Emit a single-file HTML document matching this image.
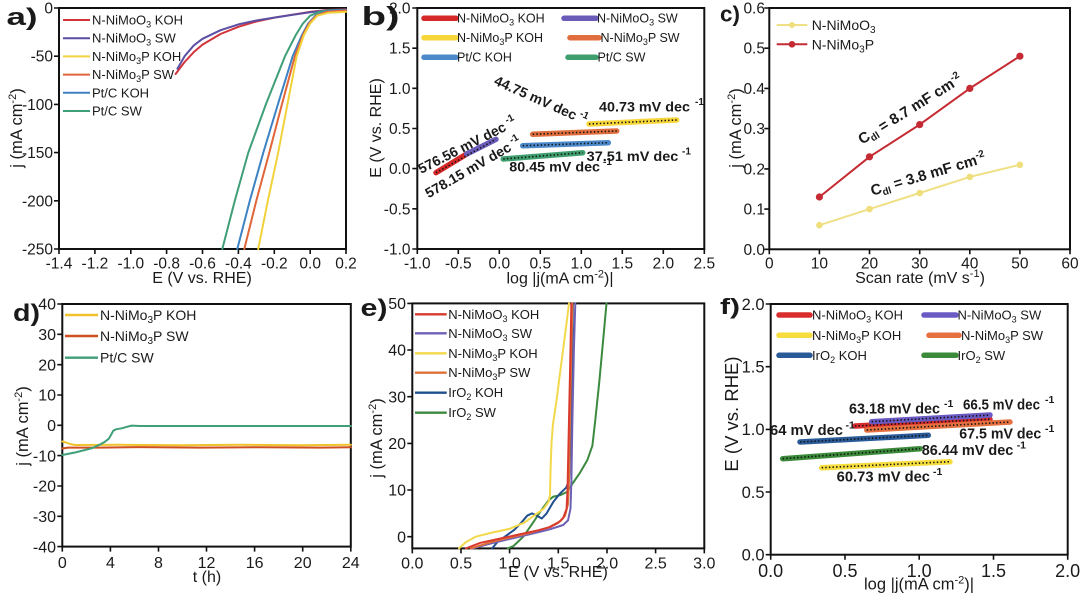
<!DOCTYPE html>
<html><head><meta charset="utf-8">
<style>
html,body{margin:0;padding:0;background:#fff;}
svg{display:block;}
text{font-family:"Liberation Sans",Arial,sans-serif;fill:#1a1a1a;}
.b{font-weight:bold;}
.ax{fill:none;stroke:#111;stroke-width:2;}
.tk{fill:none;stroke:#111;stroke-width:1.6;}
.c{fill:none;stroke-width:2;stroke-linejoin:round;stroke-linecap:round;}
.fat{fill:none;stroke-width:5.5;stroke-linecap:round;}
.dot{fill:none;stroke:#111;stroke-width:1.6;stroke-dasharray:1.4 2.2;}
</style></head><body>
<svg width="1080" height="596" viewBox="0 0 1080 596" xmlns="http://www.w3.org/2000/svg">

<!-- ================= PANEL A ================= -->
<text class="b" x="6.5" y="25" font-size="24" textLength="31" lengthAdjust="spacingAndGlyphs">a)</text>
<rect class="ax" x="59" y="8" width="287" height="241"/>
<path class="tk" d="M59 249v5M94.9 249v5M130.8 249v5M166.6 249v5M202.5 249v5M238.4 249v5M274.3 249v5M310.2 249v5M346 249v5M54 8h5M54 56.2h5M54 104.4h5M54 152.6h5M54 200.8h5M54 249h5"/>
<g font-size="15.5" text-anchor="middle">
<text x="59" y="268.5">-1.4</text><text x="94.9" y="268.5">-1.2</text><text x="130.8" y="268.5">-1.0</text><text x="166.6" y="268.5">-0.8</text><text x="202.5" y="268.5">-0.6</text><text x="238.4" y="268.5">-0.4</text><text x="274.3" y="268.5">-0.2</text><text x="310.2" y="268.5">0.0</text><text x="346" y="268.5">0.2</text>
</g>
<g font-size="15.5" text-anchor="end">
<text x="53" y="13.5">0</text><text x="53" y="61.7">-50</text><text x="53" y="109.9">-100</text><text x="53" y="158.1">-150</text><text x="53" y="206.3">-200</text><text x="53" y="254.5">-250</text>
</g>
<text x="202" y="283" font-size="16" text-anchor="middle">E (V vs. RHE)</text>
<text transform="rotate(-90 16 128)" x="16" y="134" font-size="16.5" text-anchor="middle">j (mA cm<tspan dy="-6" font-size="11">-2</tspan><tspan dy="6">)</tspan></text>

<polyline class="c" stroke="#d2343c" points="175.6,74 184.6,62 193.6,52.3 202.5,44.6 220.5,34 238.4,26.8 256.3,21.5 274.3,17.6 292.2,14.7 310.2,11.9 328.1,9.9 346,9.4"/>
<polyline class="c" stroke="#5b4fa3" points="177.4,68.7 184.6,56.2 193.6,45.6 202.5,38.8 220.5,30.2 238.4,24.4 256.3,20.5 274.3,17.6 292.2,14.9 310.2,12.2 328.1,10.2 346,9.6"/>
<polyline class="c" stroke="#3f9f78" points="222.3,249 235,200 248.3,152.6 266,104 285,56.2 295.8,35 303,23.4 310.2,15.7 319.1,11.9 328.1,10.4 346,9.9"/>
<polyline class="c" stroke="#3c82c4" points="237.3,249 250,200 263.3,152.6 278,104 292.7,56.2 302,35 308.3,23.4 315.5,15.7 324.5,11.9 333.5,10.4 346,9.9"/>
<polyline class="c" stroke="#e0663a" points="244.3,249 256.5,200 269.3,152.6 282,104 294.9,56.2 303,35 309.1,23.4 316.4,15.7 326.3,11.9 346,10.4"/>
<polyline class="c" stroke="#f2d23c" points="258.2,249 268,200 278.2,152.6 287.5,104 296.7,56.2 303.9,35 310.2,23.4 317.3,15.7 328.1,12.8 346,11.9"/>

<g font-size="13">
<line x1="63" y1="20" x2="90" y2="20" stroke="#d2343c" stroke-width="2"/><text x="92" y="24.5">N-NiMoO<tspan dy="3" font-size="9">3</tspan><tspan dy="-3"> KOH</tspan></text>
<line x1="63" y1="38.2" x2="90" y2="38.2" stroke="#5b4fa3" stroke-width="2"/><text x="92" y="42.7">N-NiMoO<tspan dy="3" font-size="9">3</tspan><tspan dy="-3"> SW</tspan></text>
<line x1="63" y1="56.4" x2="90" y2="56.4" stroke="#f2d23c" stroke-width="2"/><text x="92" y="60.9">N-NiMo<tspan dy="3" font-size="9">3</tspan><tspan dy="-3">P KOH</tspan></text>
<line x1="63" y1="74.6" x2="90" y2="74.6" stroke="#e0663a" stroke-width="2"/><text x="92" y="79.1">N-NiMo<tspan dy="3" font-size="9">3</tspan><tspan dy="-3">P SW</tspan></text>
<line x1="63" y1="92.8" x2="90" y2="92.8" stroke="#3c82c4" stroke-width="2"/><text x="92" y="97.3">Pt/C KOH</text>
<line x1="63" y1="111" x2="90" y2="111" stroke="#3f9f78" stroke-width="2"/><text x="92" y="115.5">Pt/C SW</text>
</g>

<!-- ================= PANEL B ================= -->
<text class="b" x="361.5" y="25" font-size="26" textLength="38" lengthAdjust="spacingAndGlyphs">b)</text>
<rect class="ax" x="417.3" y="8" width="287" height="241"/>
<path class="tk" d="M417.3 249v5M458.3 249v5M499.3 249v5M540.3 249v5M581.3 249v5M622.3 249v5M663.3 249v5M704.3 249v5M412.3 8h5M412.3 48.2h5M412.3 88.3h5M412.3 128.5h5M412.3 168.6h5M412.3 208.8h5M412.3 249h5"/>
<g font-size="15.5" text-anchor="middle">
<text x="417.3" y="268.5">-1.0</text><text x="458.3" y="268.5">-0.5</text><text x="499.3" y="268.5">0.0</text><text x="540.3" y="268.5">0.5</text><text x="581.3" y="268.5">1.0</text><text x="622.3" y="268.5">1.5</text><text x="663.3" y="268.5">2.0</text><text x="704.3" y="268.5">2.5</text>
</g>
<g font-size="15.5" text-anchor="end">
<text x="410.5" y="13.5">2.0</text><text x="410.5" y="53.7">1.5</text><text x="410.5" y="93.8">1.0</text><text x="410.5" y="134">0.5</text><text x="410.5" y="174.1">0.0</text><text x="410.5" y="214.3">-0.5</text><text x="410.5" y="254.4">-1.0</text>
</g>
<text x="560" y="283.5" font-size="16" text-anchor="middle">log |j(mA cm<tspan dy="-6" font-size="11">-2</tspan><tspan dy="6">)|</tspan></text>
<text transform="rotate(-90 375 128)" x="375" y="134" font-size="16" text-anchor="middle">E (V vs. RHE)</text>

<line class="fat" stroke="#d62828" x1="436" y1="172.7" x2="466.7" y2="154"/>
<line class="fat" stroke="#6a5cb8" x1="466.7" y1="154" x2="496" y2="139.3"/>
<line class="fat" stroke="#3e9e6e" x1="503.3" y1="159" x2="582.7" y2="152.7"/>
<line class="fat" stroke="#4a88c9" x1="522.7" y1="145.7" x2="608.3" y2="142.7"/>
<line class="fat" stroke="#e06d3c" x1="532.7" y1="134.3" x2="616.7" y2="131"/>
<line class="fat" stroke="#f7d63a" x1="589" y1="124" x2="676.7" y2="120"/>
<line class="dot" x1="436" y1="172.7" x2="496" y2="139.3"/>
<line class="dot" x1="503.3" y1="159" x2="582.7" y2="152.7"/>
<line class="dot" x1="522.7" y1="145.7" x2="608.3" y2="142.7"/>
<line class="dot" x1="532.7" y1="134.3" x2="616.7" y2="131"/>
<line class="dot" x1="589" y1="124" x2="676.7" y2="120"/>

<g class="b" font-size="14">
<text x="599" y="111.5" textLength="91" lengthAdjust="spacingAndGlyphs">40.73 mV dec</text><text x="695" y="105" font-size="10">-1</text>
<text x="586.7" y="161" textLength="91.6" lengthAdjust="spacingAndGlyphs">37.51 mV dec</text><text x="682" y="154.5" font-size="10">-1</text>
<text x="509.3" y="171.5" textLength="90.7" lengthAdjust="spacingAndGlyphs">80.45 mV dec</text><text x="603" y="165" font-size="10">-1</text>
<g transform="translate(541 100) rotate(24)"><text x="0" y="5" text-anchor="middle">44.75 mV dec<tspan dy="-6" font-size="10"> -1</tspan></text></g>
<g transform="translate(467 145) rotate(-27)"><text x="0" y="5" text-anchor="middle">576.56 mV dec<tspan dy="-6" font-size="10"> -1</tspan></text></g>
<g transform="translate(473 167) rotate(-30)"><text x="0" y="5" text-anchor="middle">578.15 mV dec<tspan dy="-6" font-size="10"> -1</tspan></text></g>
</g>

<g font-size="12.5">
<line class="fat" stroke="#d62828" x1="424" y1="18.3" x2="456" y2="18.3"/><text x="457" y="22.7">N-NiMoO<tspan dy="3" font-size="9">3</tspan><tspan dy="-3"> KOH</tspan></text>
<line class="fat" stroke="#6a5cb8" x1="564" y1="18.3" x2="596" y2="18.3"/><text x="597" y="22.7">N-NiMoO<tspan dy="3" font-size="9">3</tspan><tspan dy="-3"> SW</tspan></text>
<line class="fat" stroke="#f7d63a" x1="424" y1="37.7" x2="456" y2="37.7"/><text x="457" y="42.1">N-NiMo<tspan dy="3" font-size="9">3</tspan><tspan dy="-3">P KOH</tspan></text>
<line class="fat" stroke="#e06d3c" x1="570" y1="37.7" x2="599" y2="37.7"/><text x="600.5" y="42.1">N-NiMo<tspan dy="3" font-size="9">3</tspan><tspan dy="-3">P SW</tspan></text>
<line class="fat" stroke="#4a88c9" x1="424" y1="57.3" x2="456" y2="57.3"/><text x="457" y="61.7">Pt/C KOH</text>
<line class="fat" stroke="#3e9e6e" x1="568" y1="57.3" x2="596" y2="57.3"/><text x="597.5" y="61.7">Pt/C SW</text>
</g>

<!-- ================= PANEL C ================= -->
<text class="b" x="720" y="21.5" font-size="22" textLength="20" lengthAdjust="spacingAndGlyphs">c)</text>
<rect class="ax" x="769.3" y="8" width="300.7" height="241.3"/>
<path class="tk" d="M769.3 249.3v5M819.4 249.3v5M869.5 249.3v5M919.7 249.3v5M969.8 249.3v5M1019.9 249.3v5M1070 249.3v5M764.3 8h5M764.3 48.2h5M764.3 88.4h5M764.3 128.6h5M764.3 168.9h5M764.3 209.1h5M764.3 249.3h5"/>
<g font-size="15.5" text-anchor="middle">
<text x="769.3" y="268.5">0</text><text x="819.4" y="268.5">10</text><text x="869.5" y="268.5">20</text><text x="919.7" y="268.5">30</text><text x="969.8" y="268.5">40</text><text x="1019.9" y="268.5">50</text><text x="1070" y="268.5">60</text>
</g>
<g font-size="15.5" text-anchor="end">
<text x="765" y="13.5">0.6</text><text x="765" y="53.7">0.5</text><text x="765" y="93.9">0.4</text><text x="765" y="134.1">0.3</text><text x="765" y="174.4">0.2</text><text x="765" y="214.6">0.1</text><text x="765" y="254.8">0.0</text>
</g>
<text x="920" y="283" font-size="16" text-anchor="middle">Scan rate (mV s<tspan dy="-6" font-size="11">-1</tspan><tspan dy="6">)</tspan></text>
<text transform="rotate(-90 735 128)" x="735" y="134" font-size="16.5" text-anchor="middle">j (mA cm<tspan dy="-6" font-size="11">-2</tspan><tspan dy="6">)</tspan></text>

<polyline class="c" stroke="#efe086" points="819.4,225.2 869.5,209.1 919.7,193 969.8,176.9 1019.9,164.8"/>
<g fill="#eede7c"><circle cx="819.4" cy="225.2" r="3.3"/><circle cx="869.5" cy="209.1" r="3.3"/><circle cx="919.7" cy="193" r="3.3"/><circle cx="969.8" cy="176.9" r="3.3"/><circle cx="1019.9" cy="164.8" r="3.3"/></g>
<polyline class="c" stroke="#c62a32" stroke-width="2.3" points="819.4,197 869.5,156.8 919.7,124.6 969.8,88.4 1019.9,56.2"/>
<g fill="#c62a32"><circle cx="819.4" cy="197" r="3.6"/><circle cx="869.5" cy="156.8" r="3.6"/><circle cx="919.7" cy="124.6" r="3.6"/><circle cx="969.8" cy="88.4" r="3.6"/><circle cx="1019.9" cy="56.2" r="3.6"/></g>

<line x1="776.7" y1="25" x2="807.3" y2="25" stroke="#efe086" stroke-width="2"/><circle cx="792" cy="25" r="3" fill="#eede7c"/>
<line x1="776.7" y1="44.3" x2="807.3" y2="44.3" stroke="#c62a32" stroke-width="2"/><circle cx="792" cy="44.3" r="3.3" fill="#c62a32"/>
<g font-size="14"><text x="811.7" y="30">N-NiMoO<tspan dy="3" font-size="10">3</tspan></text><text x="811.7" y="49.3">N-NiMo<tspan dy="3" font-size="10">3</tspan><tspan dy="-3">P</tspan></text></g>

<g class="b" font-size="15">
<g transform="translate(910 109) rotate(-32)"><text x="0" y="5" text-anchor="middle">C<tspan dy="3" font-size="10">dl</tspan><tspan dy="-3"> = 8.7 mF cm</tspan><tspan dy="-6" font-size="10">-2</tspan></text></g>
<g transform="translate(928 174) rotate(-16.5)"><text x="0" y="5" text-anchor="middle">C<tspan dy="3" font-size="10">dl</tspan><tspan dy="-3"> = 3.8 mF cm</tspan><tspan dy="-6" font-size="10">-2</tspan></text></g>
</g>

<!-- ================= PANEL D ================= -->
<text class="b" x="13" y="321" font-size="24" textLength="27" lengthAdjust="spacingAndGlyphs">d)</text>
<rect class="ax" x="62.3" y="304" width="288.5" height="242.6"/>
<path class="tk" d="M62.3 546.6v5M110.4 546.6v5M158.5 546.6v5M206.5 546.6v5M254.6 546.6v5M302.7 546.6v5M350.8 546.6v5M57.3 304h5M57.3 334.3h5M57.3 364.7h5M57.3 395h5M57.3 425.3h5M57.3 455.6h5M57.3 486h5M57.3 516.3h5M57.3 546.6h5"/>
<g font-size="16" text-anchor="middle">
<text x="62.3" y="568">0</text><text x="110.4" y="568">4</text><text x="158.5" y="568">8</text><text x="206.5" y="568">12</text><text x="254.6" y="568">16</text><text x="302.7" y="568">20</text><text x="350.8" y="568">24</text>
</g>
<g font-size="16" text-anchor="end">
<text x="56" y="309.7">40</text><text x="56" y="340">30</text><text x="56" y="370.4">20</text><text x="56" y="400.7">10</text><text x="56" y="431">0</text><text x="56" y="461.3">-10</text><text x="56" y="491.7">-20</text><text x="56" y="522">-30</text><text x="56" y="552.3">-40</text>
</g>
<text x="207" y="582" font-size="16" text-anchor="middle">t (h)</text>
<text transform="rotate(-90 22 426)" x="22" y="432" font-size="16.5" text-anchor="middle">j (mA cm<tspan dy="-6" font-size="11">-2</tspan><tspan dy="6">)</tspan></text>

<polyline class="c" stroke="#f0c22c" stroke-width="2.6" points="62.3,441.5 66,442.5 70,444 75,445 120,444.8 180,445.3 240,444.8 300,445.2 350.8,444.8"/>
<polyline class="c" stroke="#cf4f1e" stroke-width="2.2" points="62.3,448.5 68,447.6 100,447.6 140,447.1 200,447.6 260,447.2 320,447.6 350.8,447.2"/>
<polyline class="c" stroke="#3f9f78" stroke-width="2.4" points="62.3,455 75,452.5 91.7,448.3 100,444.5 105,441.7 109,438.5 111.5,434 113.3,430.7 116,429.3 121.7,428.3 127,426.8 131.7,425.6 140,426 350.8,426"/>

<g font-size="14">
<line x1="65" y1="315" x2="98" y2="315" stroke="#f0c22c" stroke-width="2.4"/><text x="100" y="320">N-NiMo<tspan dy="3" font-size="10">3</tspan><tspan dy="-3">P KOH</tspan></text>
<line x1="65" y1="336" x2="98" y2="336" stroke="#cf4f1e" stroke-width="2.4"/><text x="100" y="341">N-NiMo<tspan dy="3" font-size="10">3</tspan><tspan dy="-3">P SW</tspan></text>
<line x1="65" y1="357.7" x2="98" y2="357.7" stroke="#3f9f78" stroke-width="2.4"/><text x="100" y="362.7">Pt/C SW</text>
</g>

<!-- ================= PANEL E ================= -->
<text class="b" x="360.5" y="316" font-size="24" textLength="27" lengthAdjust="spacingAndGlyphs">e)</text>
<rect class="ax" x="412.3" y="303.4" width="292" height="245"/>
<path class="tk" d="M412.3 548.4v5M461 548.4v5M509.6 548.4v5M558.3 548.4v5M607 548.4v5M655.6 548.4v5M704.3 548.4v5M407.3 536.7h5M407.3 490h5M407.3 443.4h5M407.3 396.7h5M407.3 350h5M407.3 303.4h5"/>
<g font-size="16" text-anchor="middle">
<text x="412.3" y="568.5">0.0</text><text x="461" y="568.5">0.5</text><text x="509.6" y="568.5">1.0</text><text x="558.3" y="568.5">1.5</text><text x="607" y="568.5">2.0</text><text x="655.6" y="568.5">2.5</text><text x="704.3" y="568.5">3.0</text>
</g>
<g font-size="16" text-anchor="end">
<text x="406" y="542.4">0</text><text x="406" y="495.7">10</text><text x="406" y="449.1">20</text><text x="406" y="402.4">30</text><text x="406" y="355.7">40</text><text x="406" y="309.1">50</text>
</g>
<text x="558" y="577" font-size="16" text-anchor="middle">E (V vs. RHE)</text>
<text transform="rotate(-90 376 438)" x="376" y="444" font-size="16.5" text-anchor="middle">j (mA cm<tspan dy="-6" font-size="11">-2</tspan><tspan dy="6">)</tspan></text>

<polyline class="c" stroke="#3b8a3e" points="507.7,548.4 513.5,546 523.3,536.7 533,522.7 540.8,511 548.6,500.3 553.4,496.6 560.2,495.2 567.1,491.9 572.9,483 579.7,473.2 587.5,459.7 592.4,445.7 595.3,420 599.2,382.7 603.1,340.7 606.5,303.4"/>
<polyline class="c" stroke="#1f4f8f" points="492.1,548.4 498,541.4 504.8,536.7 514.5,529.7 521.3,522.7 527.2,515.7 532,513.4 536.9,515.7 541.8,518.5 546.6,513.4 553.4,501.7 560.2,493.3 566.1,487.7 569,480.7 570.5,443.4 571.9,373.4 572.9,303.4"/>
<polyline class="c" stroke="#6e60b4" points="472.6,548.4 490.2,543.7 509.6,539 529.1,534.4 548.6,529.7 563.2,525 568,520.4 570.5,508.7 571.4,480.7 572.4,420 573.9,350 575.3,303.4"/>
<polyline class="c" stroke="#e0703a" points="470.7,548.4 490.2,542.3 509.6,537.6 529.1,533 548.6,527.4 560.2,521.3 565.1,515.7 568,504 569,480.7 570,420 571.4,350 572.4,303.4"/>
<polyline class="c" stroke="#d83a2e" points="465.8,548.4 480.4,542.8 499.9,538.6 519.4,534.4 538.8,530.2 550.5,526.9 558.3,522.7 563.2,518 566.6,508.7 567.5,490 568.5,443.4 570,373.4 571.4,303.4"/>
<polyline class="c" stroke="#f2d84a" points="459,548.4 465.8,542.3 475.6,536.7 490.2,533 509.6,528.8 524.2,522.7 534,515.7 543.7,508.7 548.6,501.7 550,494.7 550.5,471.4 551.5,443.4 552.9,424.7 556.4,401.4 561.2,364 566.1,326.7 569,303.4"/>

<g font-size="13">
<line x1="415" y1="314.3" x2="446.7" y2="314.3" stroke="#d83a2e" stroke-width="2.4"/><text x="448.3" y="318.8">N-NiMoO<tspan dy="3" font-size="9">3</tspan><tspan dy="-3"> KOH</tspan></text>
<line x1="415" y1="333.3" x2="446.7" y2="333.3" stroke="#6e60b4" stroke-width="2.4"/><text x="448.3" y="337.8">N-NiMoO<tspan dy="3" font-size="9">3</tspan><tspan dy="-3"> SW</tspan></text>
<line x1="415" y1="353.3" x2="446.7" y2="353.3" stroke="#f2d84a" stroke-width="2.4"/><text x="448.3" y="357.8">N-NiMo<tspan dy="3" font-size="9">3</tspan><tspan dy="-3">P KOH</tspan></text>
<line x1="415" y1="372.7" x2="446.7" y2="372.7" stroke="#e0703a" stroke-width="2.4"/><text x="448.3" y="377.2">N-NiMo<tspan dy="3" font-size="9">3</tspan><tspan dy="-3">P SW</tspan></text>
<line x1="415" y1="392.7" x2="446.7" y2="392.7" stroke="#1f4f8f" stroke-width="2.4"/><text x="448.3" y="397.2">IrO<tspan dy="3" font-size="9">2</tspan><tspan dy="-3"> KOH</tspan></text>
<line x1="415" y1="412.7" x2="446.7" y2="412.7" stroke="#3b8a3e" stroke-width="2.4"/><text x="448.3" y="417.2">IrO<tspan dy="3" font-size="9">2</tspan><tspan dy="-3"> SW</tspan></text>
</g>

<!-- ================= PANEL F ================= -->
<text class="b" x="720" y="314" font-size="22" textLength="20" lengthAdjust="spacingAndGlyphs">f)</text>
<rect class="ax" x="770.7" y="304" width="297" height="250.7"/>
<path class="tk" d="M770.7 554.7v5M845 554.7v5M919.2 554.7v5M993.5 554.7v5M1067.7 554.7v5M765.7 554.7h5M765.7 492h5M765.7 429.4h5M765.7 366.7h5M765.7 304h5"/>
<g font-size="18" text-anchor="middle">
<text x="770.7" y="577">0.0</text><text x="845" y="577">0.5</text><text x="919.2" y="577">1.0</text><text x="993.5" y="577">1.5</text><text x="1067.7" y="577">2.0</text>
</g>
<g font-size="16.5" text-anchor="end">
<text x="764.5" y="560.5">0.0</text><text x="764.5" y="497.8">0.5</text><text x="764.5" y="435.2">1.0</text><text x="764.5" y="372.5">1.5</text><text x="764.5" y="309.8">2.0</text>
</g>
<text x="919" y="589.5" font-size="16.5" text-anchor="middle">log |j(mA cm<tspan dy="-6" font-size="11">-2</tspan><tspan dy="6">)|</tspan></text>
<text transform="rotate(-90 732 414)" x="732" y="420" font-size="18.5" text-anchor="middle">E (V vs. RHE)</text>

<line class="fat" stroke="#d92c2c" x1="855" y1="426" x2="990" y2="419.3"/>
<line class="fat" stroke="#e57040" x1="866.7" y1="430" x2="1010" y2="422"/>
<line class="fat" stroke="#6a5ac4" x1="871.7" y1="421.7" x2="990" y2="415"/>
<line class="fat" stroke="#2a5a98" x1="800" y1="442" x2="928.3" y2="435.3"/>
<line class="fat" stroke="#3a8a3a" x1="782.7" y1="458.7" x2="920" y2="448.7"/>
<line class="fat" stroke="#f6dc3c" x1="821.7" y1="467.7" x2="950" y2="461.7"/>
<line class="dot" x1="855" y1="426" x2="990" y2="419.3"/>
<line class="dot" x1="866.7" y1="430" x2="1010" y2="422"/>
<line class="dot" x1="871.7" y1="421.7" x2="990" y2="415"/>
<line class="dot" x1="800" y1="442" x2="928.3" y2="435.3"/>
<line class="dot" x1="782.7" y1="458.7" x2="920" y2="448.7"/>
<line class="dot" x1="821.7" y1="467.7" x2="950" y2="461.7"/>

<g class="b" font-size="14.5">
<text x="849" y="413.5" textLength="91" lengthAdjust="spacingAndGlyphs">63.18 mV dec</text><text x="944" y="407" font-size="10.5">-1</text>
<text x="963" y="409.5" textLength="77" lengthAdjust="spacingAndGlyphs">66.5 mV dec</text><text x="1045" y="403" font-size="10.5">-1</text>
<text x="770" y="435" textLength="73" lengthAdjust="spacingAndGlyphs">64 mV dec</text><text x="845.5" y="428.5" font-size="10.5">-1</text>
<text x="959.3" y="438.3" textLength="82" lengthAdjust="spacingAndGlyphs">67.5 mV dec</text><text x="1045" y="431.8" font-size="10.5">-1</text>
<text x="921.7" y="455" textLength="91.6" lengthAdjust="spacingAndGlyphs">86.44 mV dec</text><text x="1016.7" y="448.5" font-size="10.5">-1</text>
<text x="836.7" y="481.7" textLength="93.3" lengthAdjust="spacingAndGlyphs">60.73 mV dec</text><text x="933" y="475.2" font-size="10.5">-1</text>
</g>

<g font-size="13">
<line class="fat" stroke="#d92c2c" x1="779" y1="315" x2="810" y2="315"/><text x="812" y="319.5">N-NiMoO<tspan dy="3" font-size="9">3</tspan><tspan dy="-3"> KOH</tspan></text>
<line class="fat" stroke="#6a5ac4" x1="924" y1="315" x2="956" y2="315"/><text x="957.5" y="319.5">N-NiMoO<tspan dy="3" font-size="9">3</tspan><tspan dy="-3"> SW</tspan></text>
<line class="fat" stroke="#f6dc3c" x1="779" y1="335.3" x2="810" y2="335.3"/><text x="812" y="339.8">N-NiMo<tspan dy="3" font-size="9">3</tspan><tspan dy="-3">P KOH</tspan></text>
<line class="fat" stroke="#e57040" x1="929" y1="335.3" x2="959" y2="335.3"/><text x="961" y="339.8">N-NiMo<tspan dy="3" font-size="9">3</tspan><tspan dy="-3">P SW</tspan></text>
<line class="fat" stroke="#2a5a98" x1="779" y1="355.3" x2="810" y2="355.3"/><text x="812" y="359.8">IrO<tspan dy="3" font-size="9">2</tspan><tspan dy="-3"> KOH</tspan></text>
<line class="fat" stroke="#3a8a3a" x1="924" y1="355.3" x2="956" y2="355.3"/><text x="957.5" y="359.8">IrO<tspan dy="3" font-size="9">2</tspan><tspan dy="-3"> SW</tspan></text>
</g>

</svg>
</body></html>
